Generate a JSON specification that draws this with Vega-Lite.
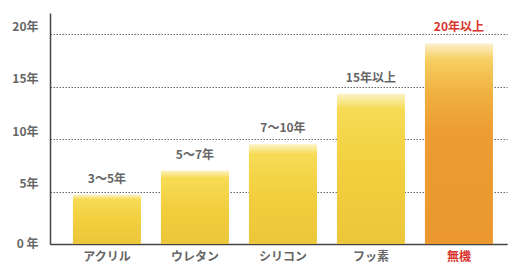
{
  "$schema": "https://vega.github.io/schema/vega-lite/v6.json",
  "autosize": {"type": "none"},
  "padding": {"left": 50, "top": 13, "right": 3, "bottom": 26},
  "width": 457,
  "height": 231,
  "background": "white",
  "config": {
    "view": {"stroke": null},
    "font": "Noto Sans CJK JP"
  },
  "data": {
    "values": [
      {"type": "アクリル", "years": 4.7, "label": "3～5年"},
      {"type": "ウレタン", "years": 7.0, "label": "5～7年"},
      {"type": "シリコン", "years": 9.5, "label": "7～10年"},
      {"type": "フッ素", "years": 14.3, "label": "15年以上"},
      {"type": "無機", "years": 19.1, "label": "20年以上"}
    ]
  },
  "encoding": {
    "x": {
      "field": "type",
      "type": "nominal",
      "sort": null,
      "scale": {"paddingInner": 0.227, "paddingOuter": 0.21, "align": 0.62},
      "axis": {
        "title": null,
        "labelAngle": 0,
        "ticks": false,
        "domain": true,
        "domainColor": "#444",
        "domainWidth": 1.5,
        "labelPadding": 7,
        "labelFontSize": 12,
        "labelFontWeight": "bold",
        "labelColor": {"condition": {"test": "datum.value == '無機'", "value": "#d8342c"}, "value": "#666666"}
      }
    },
    "y": {
      "field": "years",
      "type": "quantitative",
      "scale": {"domain": [0, 22], "nice": false},
      "axis": {
        "title": null,
        "values": [0, 5, 10, 15, 20],
        "ticks": false,
        "domain": true,
        "domainColor": "#444",
        "domainWidth": 1.5,
        "grid": true,
        "gridColor": "#666666",
        "gridDash": [1.5, 1.5],
        "gridWidth": 1,
        "labelExpr": "datum.value == 0 ? '0 年' : datum.value + '年'",
        "labelPadding": 12,
        "labelFontSize": 12,
        "labelFontWeight": "bold",
        "labelColor": "#666666",
        "labelOffset": {"condition": {"test": "datum.value == 0", "value": -1}, "value": -8}
      }
    }
  },
  "layer": [
    {
      "mark": {"type": "bar"},
      "encoding": {
        "color": {
          "condition": {
            "test": "datum.type == '無機'",
            "value": {
              "gradient": "linear", "x1": 0, "y1": 0, "x2": 0, "y2": 1,
              "stops": [
                {"offset": 0, "color": "#fdf0cc"},
                {"offset": 0.08, "color": "#f6cf62"},
                {"offset": 0.25, "color": "#f0b040"},
                {"offset": 0.45, "color": "#ec9c32"},
                {"offset": 1, "color": "#ea982f"}
              ]
            }
          },
          "value": {
            "gradient": "linear", "x1": 0, "y1": 0, "x2": 0, "y2": 1,
            "stops": [
              {"offset": 0, "color": "#fcf3c6"},
              {"offset": 0.1, "color": "#f7db55"},
              {"offset": 0.5, "color": "#f2cf3e"},
              {"offset": 1, "color": "#ebc63a"}
            ]
          }
        }
      }
    },
    {
      "mark": {"type": "text", "baseline": "middle", "dy": -16, "fontSize": 12, "fontWeight": "bold"},
      "encoding": {
        "text": {"field": "label"},
        "color": {
          "condition": {"test": "datum.type == '無機'", "value": "#d8342c"},
          "value": "#666666"
        }
      }
    }
  ]
}
